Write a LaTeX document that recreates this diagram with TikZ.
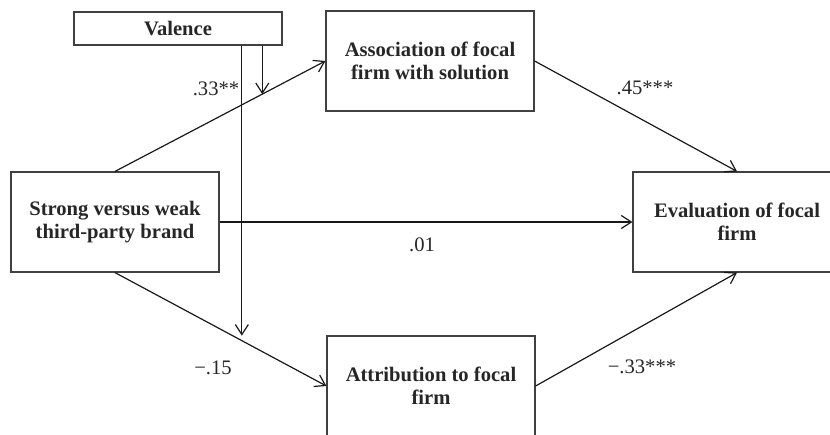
\documentclass[tikz,border=0pt]{standalone}
\usepackage{fontspec}
\setmainfont{Liberation Serif}
\usetikzlibrary{arrows.meta, positioning, calc}

\begin{document}
\begin{tikzpicture}[
  x=0.5pt, y=-0.5pt,
  box/.style = {draw=black!75, line width=0.6pt, minimum width=104pt, minimum height=50pt, inner sep=0pt, align=center, text=black!85, font=\fontsize{10.3}{11.5}\selectfont\bfseries},
  link/.style = {line width=0.6pt, black!90, -{Straight Barb[length=5pt, width=6.5pt]}},
  coef/.style = {text=black!85, font=\fontsize{10.3}{12}\selectfont}
]

% Page frame
\useasboundingbox (0,0) rectangle (830,434);
\clip (0,0) rectangle (830,434);

% Boxes
\node[box, minimum height=16.5pt] (valence) at (178,28.5) {Valence};
\node[box] (assoc) at (430,61) {Association of focal\\firm with solution};
\node[box] (strong) at (115,222) {Strong versus weak\\third-party brand};
\node[box] (attr) at (431,386) {Attribution to focal\\firm};
\node[box] (eval) at (737,222) {Evaluation of focal\\firm};

% Main paths
\draw[link] (strong.north) -- (assoc.west);
\draw[link] (strong.east) -- (eval.west);
\draw[link] (strong.south) -- (attr.west);
\draw[link] (assoc.east) -- (eval.north);
\draw[link] (attr.east) -- (eval.south);

% Moderation by valence
\coordinate (modtop) at ($(strong.north)!0.70!(assoc.west)$);
\coordinate (modlow) at ($(strong.south)!0.60!(attr.west)$);
\draw[link] (valence.south -| modtop) -- (modtop);
\draw[link, shorten >=2.5pt] (valence.south -| modlow) -- (modlow);

% Coefficients
\node[coef] (c1) at (216,89) {.33**};
\node[coef] (c2) at (645,88) {.45***};
\node[coef] (c3) at (422,245) {.01};
\node[coef] (c4) at (213,368) {−.15};
\node[coef] (c5) at (642,367) {−.33***};

\end{tikzpicture}
\end{document}
